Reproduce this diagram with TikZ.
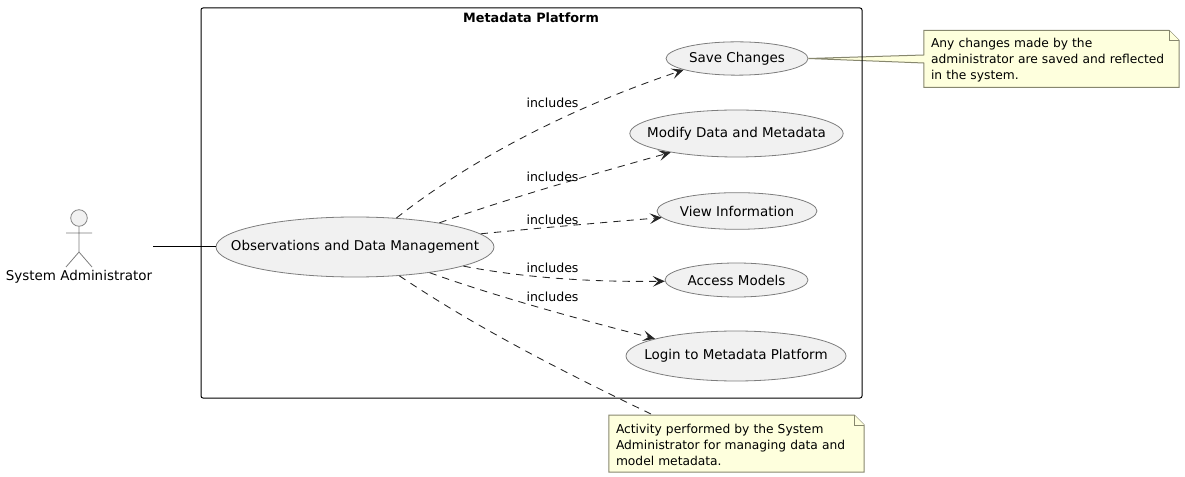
\documentclass[tikz,border=0pt]{standalone}
\usepackage{fontspec}
\setmainfont{DejaVu Sans}
\usetikzlibrary{shapes.geometric,arrows.meta}

\definecolor{usefill}{RGB}{241,241,241}
\definecolor{usedraw}{RGB}{125,125,125}
\definecolor{notefill}{RGB}{254,255,221}
\definecolor{notedraw}{RGB}{135,135,110}

\newcommand{\casetext}[1]{\makebox[0pt]{#1}}

\tikzset{every picture/.style={line width=0.75pt}}
\tikzset{
  usecase/.style={ellipse,draw=usedraw,fill=usefill,line width=0.6pt,inner sep=0pt,font=\fontsize{10.1}{12}\selectfont},
  notebox/.style={inner sep=0pt,minimum width=190.75pt,minimum height=42pt},
  notetext/.style={inner sep=0pt,minimum width=180.75pt,text width=180.75pt,align=left,yshift=-0.75pt,font=\fontsize{9.2}{12}\selectfont},
  noteline/.style={draw=notedraw,fill=notefill,line width=0.75pt},
  inclabel/.style={inner sep=0pt,font=\fontsize{9.4}{12}\selectfont},
  incedge/.style={draw=black!85,line width=0.65pt,dash pattern=on 5.5pt off 4.5pt,-{Stealth[length=9pt,width=8pt,inset=4pt]}},
  noteedge/.style={draw=black!85,line width=0.65pt,dash pattern=on 5.5pt off 4.5pt}
}

\begin{document}
\begin{tikzpicture}[x=0.75pt,y=0.75pt,yscale=-1,xscale=1]
\useasboundingbox (0,0) rectangle (1185,477);

%Actor
\node (adminhead) [circle,draw=usedraw,fill=usefill,line width=0.6pt,inner sep=0pt,minimum size=12.4pt] at (79,218) {};
\coordinate (adminhip) at (79,252);
\coordinate (adminarml) at (66,233);
\coordinate (adminarmr) at (92,233);
\coordinate (adminlegl) at (66,267);
\coordinate (adminlegr) at (92,267);
\draw [draw=usedraw,line width=0.6pt] (adminhead) -- (adminhip) (adminarml) -- (adminarmr) (adminlegl) -- (adminhip) -- (adminlegr);
\node (admin) [inner sep=0pt,font=\fontsize{10.1}{12}\selectfont] at (79,277) {System Administrator};
\coordinate (adminlink) at (153,247);

%Use cases
\node (obs) [usecase,minimum width=208.5pt,minimum height=45pt] at (355,247) {\casetext{Observations and Data Management}};
\node (save) [usecase,minimum width=106.5pt,minimum height=25pt] at (737,58.5) {\casetext{Save Changes}};
\node (modify) [usecase,minimum width=160pt,minimum height=35.25pt] at (736.5,133.5) {\casetext{Modify Data and Metadata}};
\node (view) [usecase,minimum width=120pt,minimum height=27.5pt] at (737,211) {\casetext{View Information}};
\node (access) [usecase,minimum width=107.25pt,minimum height=25.5pt] at (736.5,280) {\casetext{Access Models}};
\node (login) [usecase,minimum width=165pt,minimum height=37.5pt] at (736,356) {\casetext{Login to Metadata Platform}};

%Notes
\node (savenote) [notebox] at (1051.5,59) {};
\node (obsnote) [notebox] at (736.5,443.5) {};
\draw [noteline] (savenote.south west) -- ([yshift=3pt]savenote.west) -- (save.east) -- ([yshift=-3pt]savenote.west) -- (savenote.north west) -- ([xshift=-7.5pt]savenote.north east) -- ([yshift=7.5pt]savenote.north east) -- (savenote.south east) -- cycle;
\draw [noteline] ([xshift=-7.5pt]savenote.north east) -- ([xshift=-7.5pt,yshift=7.5pt]savenote.north east) -- ([yshift=7.5pt]savenote.north east);
\node (savenotetext) [notetext] at (savenote) {Any changes made by the\\administrator are saved and reflected\\in the system.};
\draw [noteline] (obsnote.south west) -- (obsnote.north west) -- ([xshift=-7.5pt]obsnote.north east) -- ([yshift=7.5pt]obsnote.north east) -- (obsnote.south east) -- cycle;
\draw [noteline] ([xshift=-7.5pt]obsnote.north east) -- ([xshift=-7.5pt,yshift=7.5pt]obsnote.north east) -- ([yshift=7.5pt]obsnote.north east);
\node (obsnotetext) [notetext] at (obsnote) {Activity performed by the System\\Administrator for managing data and\\model metadata.};

%Frame
\node (platform) [draw,rounded corners=1.5pt,inner sep=0pt,minimum width=495.75pt,minimum height=292.5pt] at (531.5,203) {};
% Text Node
\node (platformtitle) [inner sep=0pt,font=\fontsize{9.6}{12}\selectfont\bfseries] at (531,18) {Metadata Platform};

%Connectors
\draw (adminlink) -- (obs);
\draw [incedge] (obs.35) .. controls (470,160) and (570,108) .. (save.192);
\draw [incedge] (obs.16) .. controls (510,198) and (600,172) .. (modify.196);
\draw [incedge] (obs.6) .. controls (550,227) and (610,222) .. (view.185);
\draw [incedge] (obs.-10) .. controls (530,279) and (600,282) .. (access.181);
\draw [incedge] (obs.-19) .. controls (500,298) and (590,322) .. (login.168);
\coordinate (obsnotetop) at (651,414);
\draw [noteedge] (obs.-33) .. controls (480,330) and (570,375) .. (obsnotetop);

% Text Node
\node (inca) [inclabel] at (552.5,102.5) {includes};
\node (incb) [inclabel] at (552.5,176.5) {includes};
\node (incc) [inclabel] at (552.5,219.5) {includes};
\node (incd) [inclabel] at (552.5,267.5) {includes};
\node (ince) [inclabel] at (552.5,296.5) {includes};

\end{tikzpicture}
\end{document}
